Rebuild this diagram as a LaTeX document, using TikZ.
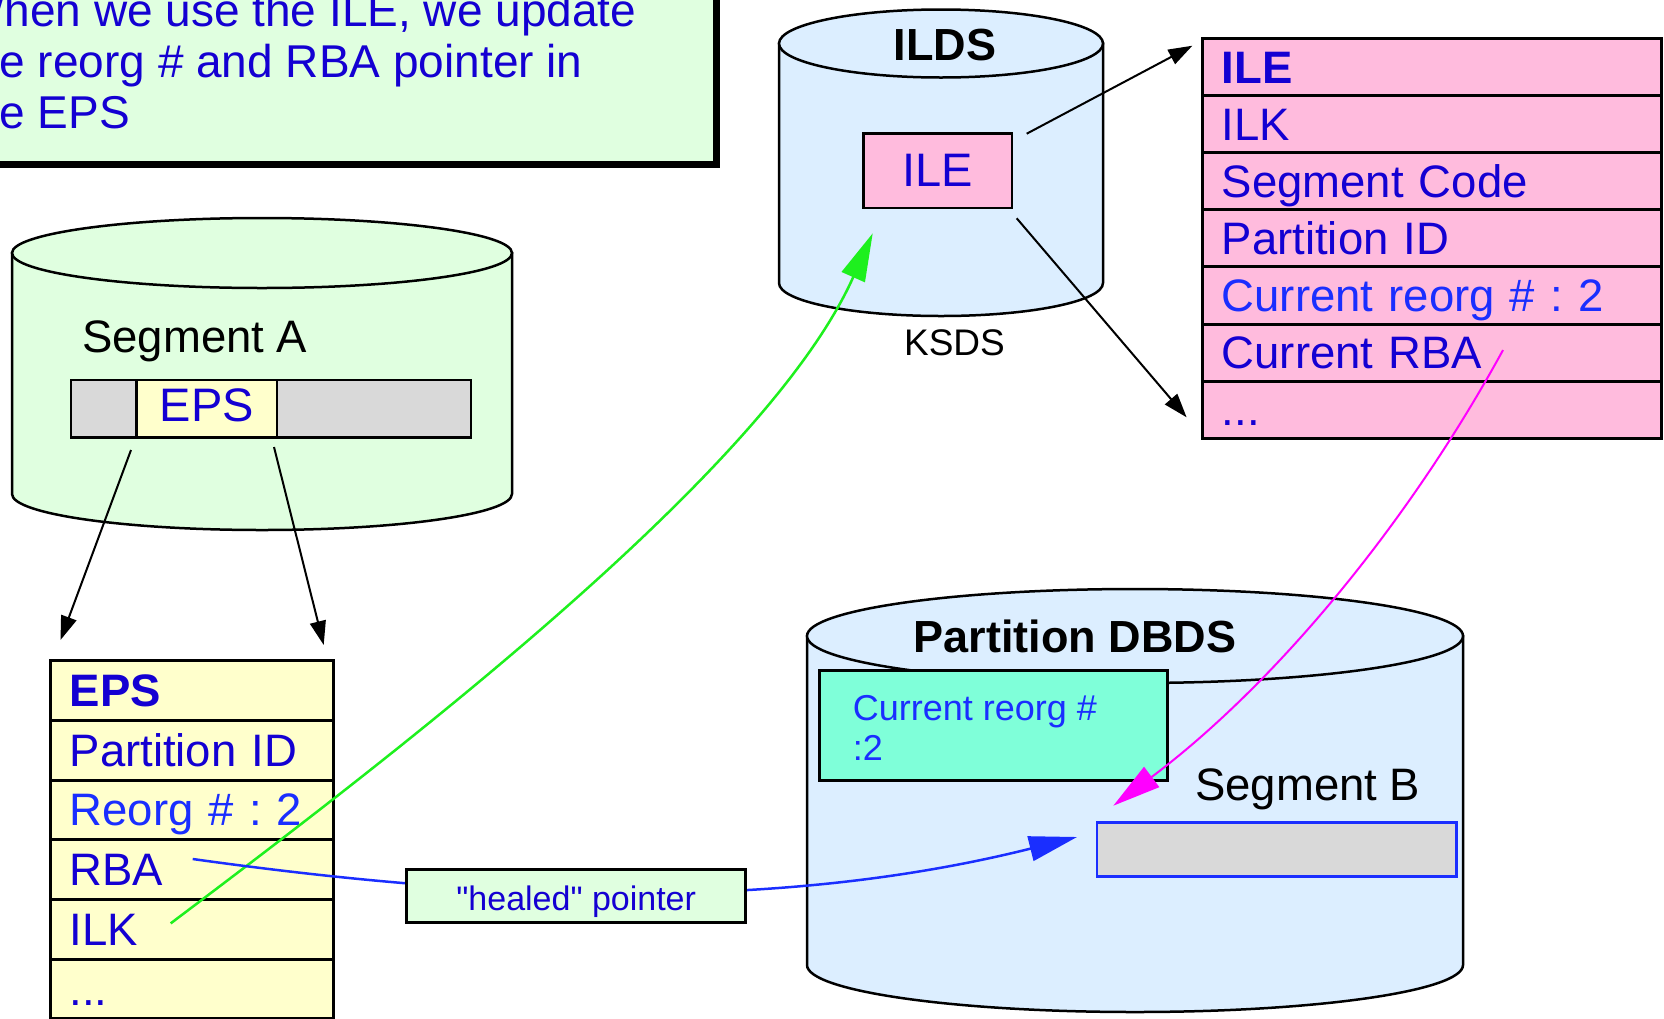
\documentclass[tikz,border=0pt]{standalone}
\usepackage{fontspec}
\setmainfont{Liberation Sans}
\usetikzlibrary{arrows.meta}
\definecolor{dblue}{RGB}{20,0,210}
\definecolor{bblue}{RGB}{26,46,255}
\definecolor{lgreen}{RGB}{224,255,224}
\definecolor{lblue}{RGB}{220,238,255}
\definecolor{lgray}{RGB}{217,217,217}
\definecolor{lyellow}{RGB}{255,255,204}
\definecolor{lpink}{RGB}{255,187,221}
\definecolor{tealbox}{RGB}{127,255,217}
\definecolor{magarrow}{RGB}{255,0,255}
\definecolor{greenarrow}{RGB}{30,240,30}
\begin{document}
\frenchspacing
\begin{tikzpicture}[x=1pt,y=-1pt,
  cylline/.style={draw=black, line width=2.5pt},
  row/.style={draw=black, line width=3pt, anchor=north west, outer sep=0pt,
    inner ysep=0pt, inner xsep=19pt, text height=36pt, text depth=4pt,
    align=left, font=\fontsize{45.5}{50}\selectfont, text=dblue},
  epsrow/.style={row, fill=lyellow, text width=245pt, minimum height=59.7pt},
  ilerow/.style={row, fill=lpink, text width=421pt, minimum height=57.1pt},
  blackarr/.style={draw=black, line width=2pt, -{Triangle[length=24pt,width=16pt]}},
  bigarr/.style={line width=2.5pt, -{Triangle[length=48pt,width=25pt]}},
  lbl/.style={inner sep=0pt, font=\fontsize{45.5}{50}\selectfont, text=black},
  boldlbl/.style={inner sep=0pt, font=\fontsize{45}{50}\selectfont\bfseries, text=black}
]
\useasboundingbox (0,0) rectangle (1664,1018);
\clip (0,0) rectangle (1664,1018);

% note box
\draw[fill=lgreen, draw=black, line width=7pt] (-60,-60) rectangle (716,164.7);
\node[anchor=base west, align=left, inner sep=0pt,
      font=\fontsize{46}{51}\selectfont, text=dblue] (note) at (-39,128)
  {When we use the ILE, we update\\the reorg \# and RBA pointer in\\the EPS};

% Segment A cylinder
\path[cylline, fill=lgreen] (12,253) -- (12,494)
  arc[start angle=180, end angle=0, x radius=250, y radius=36] -- (512,253) -- cycle;
\path[cylline, fill=lgreen] (262,253) ellipse [x radius=250, y radius=35];
\node[lbl, anchor=base west] (segAlbl) at (82,352) {Segment A};
\draw[fill=lgray, draw=black, line width=2.5pt] (71,380) rectangle (471,437.7);
\node[draw=black, fill=lyellow, line width=2.5pt, anchor=north west, outer sep=0pt,
      inner sep=0pt, minimum width=140.4pt, minimum height=57.7pt,
      text height=33.6pt, text depth=8pt,
      font=\fontsize{47}{50}\selectfont, text=dblue] (epsA) at (136.6,380) {EPS};

% ILDS cylinder
\path[cylline, fill=lblue] (779,43.5) -- (779,283)
  arc[start angle=180, end angle=0, x radius=162, y radius=33] -- (1103,43.5) -- cycle;
\path[cylline, fill=lblue] (941,43.5) ellipse [x radius=162, y radius=34];
\node[boldlbl, anchor=base] (ildslbl) at (945,60) {ILDS};
\node[draw=black, fill=lpink, line width=2.5pt, anchor=north west, outer sep=0pt,
      inner sep=0pt, minimum width=148.3pt, minimum height=74.7pt,
      font=\fontsize{47}{50}\selectfont, text=dblue] (ileS) at (863.7,133.3) {ILE};
\node[inner sep=0pt, anchor=base, font=\fontsize{37}{40}\selectfont] (ksds) at (954.5,355) {KSDS};

% ILE table
\node[ilerow] (ile0) at (1202.7,38.5) {\textbf{ILE}};
\node[ilerow] (ile1) at (1202.7,95.6) {ILK};
\node[ilerow] (ile2) at (1202.7,152.7) {Segment Code};
\node[ilerow] (ile3) at (1202.7,209.8) {Partition ID};
\node[ilerow, text=bblue] (ile4) at (1202.7,266.9) {Current reorg \# : 2};
\node[ilerow] (ile5) at (1202.7,324) {Current RBA};
\node[ilerow] (ile6) at (1202.7,381.1) {...};

% Partition DBDS cylinder
\path[cylline, fill=lblue] (807,636) -- (807,965)
  arc[start angle=180, end angle=0, x radius=328, y radius=47] -- (1463,636) -- cycle;
\path[cylline, fill=lblue] (1135,636) ellipse [x radius=328, y radius=47];
\node[boldlbl, anchor=base] (dbdslbl) at (1075,652.7) {Partition DBDS};
\node[draw=black, fill=tealbox, line width=2.5pt, anchor=north west, outer sep=0pt,
      inner sep=0pt, minimum width=348pt, minimum height=110pt] (reorgbox) at (819.3,670.7) {};
\node[anchor=base west, align=left, inner sep=0pt,
      font=\fontsize{36}{40}\selectfont, text=bblue] (reorgtxt) at (852.7,760)
  {Current reorg \#\\:2};
\node[lbl, anchor=base west] (segBlbl) at (1195,800) {Segment B};
\node[draw=bblue, fill=lgray, line width=2.5pt, anchor=north west, outer sep=0pt,
      inner sep=0pt, minimum width=359.6pt, minimum height=54.4pt] (segB) at (1097,822.3) {};

% EPS table
\node[epsrow] (eps0) at (50.7,660.7) {\textbf{EPS}};
\node[epsrow] (eps1) at (50.7,720.4) {Partition ID};
\node[epsrow, text=bblue] (eps2) at (50.7,780.1) {Reorg \# : 2};
\node[epsrow] (eps3) at (50.7,839.8) {RBA};
\node[epsrow] (eps4) at (50.7,899.5) {ILK};
\node[epsrow] (eps5) at (50.7,959.2) {...};

% black arrows
\draw[blackarr] ([shift={(-5.6,12.3)}]epsA.south west) -- ([shift={(9.8,-20.7)}]eps0.north west);
\draw[blackarr] ([shift={(-3,9.3)}]epsA.south east) -- ([shift={(-10,-15.7)}]eps0.north east);
\draw[blackarr] ([shift={(14.7,0.4)}]ileS.north east) -- ([shift={(-10.3,7.2)}]ile0.north west);
\draw[blackarr] ([shift={(4.7,10.3)}]ileS.south east) -- ([shift={(-16.1,-20.9)}]ile6.south west);

% green arrow ILK -> ILE
\draw[bigarr, draw=greenarrow] ([shift={(120,-6)}]eps4.west)
  .. controls (394.7,754.4) and (767.2,470.6) .. ([shift={(9,25.3)}]ileS.south west);

% magenta arrow Current RBA -> Segment B
\draw[bigarr, line width=2pt, draw=magarrow] ([shift={(300.3,-2.5)}]ile5.west)
  .. controls (1407,526) and (1273,686) .. ([shift={(16.3,-16.6)}]segB.north west);

% blue arrow RBA -> Segment B (healed pointer)
\draw[bigarr, draw=bblue] ([shift={(142,-10.65)}]eps3.west)
  .. controls (493,901) and (777,912) .. ([shift={(-20,-12.5)}]segB.west);
\node[draw=black, fill=lgreen, line width=3pt, inner sep=0pt,
      minimum width=339pt, minimum height=53.4pt, text height=30pt, text depth=2pt,
      font=\fontsize{34}{40}\selectfont, text=dblue] (healed) at (576.2,896)
  {\textquotedbl healed\textquotedbl{} pointer};
\end{tikzpicture}
\end{document}
